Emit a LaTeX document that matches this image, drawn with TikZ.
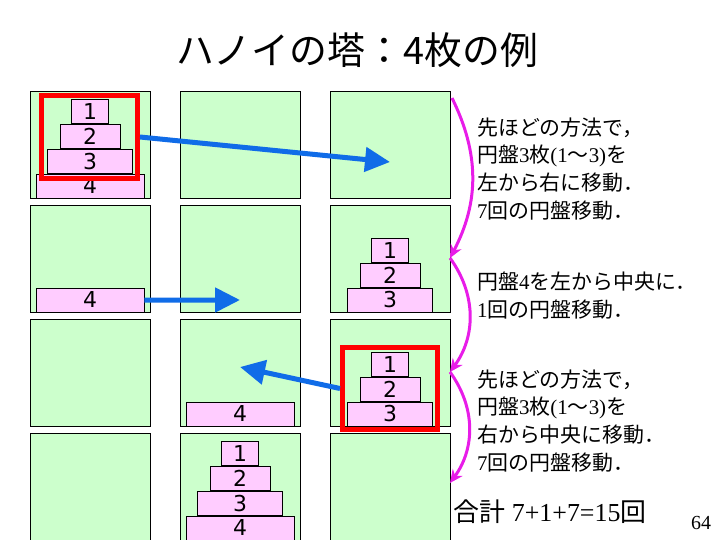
\documentclass[tikz,border=0pt]{standalone}
\usepackage{fontspec}
\setmainfont{Liberation Serif}
\newfontfamily\jp{Noto Sans CJK JP}
\newfontfamily\numfont{DejaVu Sans}
\usetikzlibrary{positioning,arrows.meta}
\definecolor{panelgreen}{RGB}{204,255,204}
\definecolor{diskpink}{RGB}{255,204,255}
\definecolor{arrowblue}{RGB}{16,108,232}
\definecolor{arcpink}{RGB}{232,28,232}

\begin{document}
\begin{tikzpicture}[x=1bp, y=-1bp,
    panel/.style={draw, line width=0.8bp, fill=panelgreen, minimum width=120bp, minimum height=107bp, inner sep=0pt},
    disk/.style={draw, line width=0.8bp, fill=diskpink, minimum height=24bp, inner sep=0pt, font=\numfont\fontsize{22}{22}\selectfont},
    disk1/.style={disk, minimum width=37bp},
    disk2/.style={disk, minimum width=60bp},
    disk3/.style={disk, minimum width=85bp},
    disk4/.style={disk, minimum width=108bp},
    redbox/.style={draw=red, line width=5bp, inner sep=0pt},
    bluearrow/.style={draw=arrowblue, line width=5bp, -{Triangle[length=25bp,width=24bp]}},
    pinkarrow/.style={draw=arcpink, line width=3bp, -{Stealth[length=13bp,width=12bp]}},
    note/.style={anchor=west, align=left, inner sep=0pt, font=\fontsize{21}{28}\selectfont}]

    \useasboundingbox (0,0) rectangle (720,540);

    \node[font=\jp\fontsize{38}{38}\selectfont] (title) at (357,50) {ハノイの塔：4枚の例};

    % pegs: 4 rows x 3 columns
    \foreach \r/\y in {1/144.5, 2/258.5, 3/372.5, 4/486.5}
      \foreach \c/\x in {1/90, 2/240, 3/390}
        \node[panel] (p\r\c) at (\x,\y) {};

    % row 1
    \node[disk4, above=0pt of p11.south] (a4) {4};
    \node[disk3, above=0pt of a4] (a3) {3};
    \node[disk2, above=0pt of a3] (a2) {2};
    \node[disk1, above=0pt of a2] (a1) {1};
    % row 2
    \node[disk4, above=0pt of p21.south] (b4) {4};
    \node[disk3, above=0pt of p23.south] (b3) {3};
    \node[disk2, above=0pt of b3] (b2) {2};
    \node[disk1, above=0pt of b2] (b1) {1};
    % row 3
    \node[disk4, above=0pt of p32.south] (c4) {4};
    \node[disk3, above=0pt of p33.south] (c3) {3};
    \node[disk2, above=0pt of c3] (c2) {2};
    \node[disk1, above=0pt of c2] (c1) {1};
    % row 4
    \node[disk4, above=0pt of p42.south] (e4) {4};
    \node[disk3, above=0pt of e4] (e3) {3};
    \node[disk2, above=0pt of e3] (e2) {2};
    \node[disk1, above=0pt of e2] (e1) {1};

    \node[redbox, minimum width=96bp, minimum height=83bp] (rb1) at (89.5,137) {};
    \node[redbox, minimum width=95bp, minimum height=82bp] (rb2) at (390,388.5) {};

    \coordinate (t1) at (390,162);
    \coordinate (t2) at (240,300);
    \coordinate (t3) at (240,367);
    \draw[bluearrow] (rb1.east) -- (t1);
    \draw[bluearrow] (b4.east) -- (t2);
    \draw[bluearrow] (rb2.west) -- (t3);

    \coordinate (m1) at (452,98);
    \coordinate (m2) at (450,258);
    \coordinate (m3) at (450,372);
    \coordinate (m4) at (450,483);
    \draw[pinkarrow] (m1) to[bend left=27] (m2);
    \draw[pinkarrow] (m2) to[bend left=36] (m3);
    \draw[pinkarrow] (m3) to[bend left=36] (m4);

    \node[note] (n1) at (477,169) {{\jp 先ほどの方法で，}\\{\jp 円盤}3{\jp 枚}(1{\jp ～}3){\jp を}\\{\jp 左から右に移動．}\\7{\jp 回の円盤移動．}};
    \node[note] (n2) at (477,296) {{\jp 円盤}4{\jp を左から中央に．}\\1{\jp 回の円盤移動．}};
    \node[note] (n3) at (477,421) {{\jp 先ほどの方法で，}\\{\jp 円盤}3{\jp 枚}(1{\jp ～}3){\jp を}\\{\jp 右から中央に移動．}\\7{\jp 回の円盤移動．}};
    \node[font=\fontsize{26}{26}\selectfont] (sum) at (550,512) {{\jp 合計} 7+1+7=15{\jp 回}};
    \node[font=\fontsize{20}{20}\selectfont] (pg) at (701,523) {64};
\end{tikzpicture}
\end{document}
